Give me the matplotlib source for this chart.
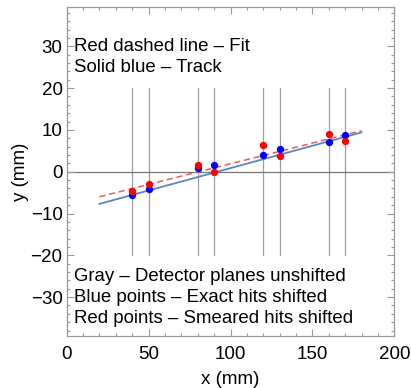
import matplotlib
matplotlib.use("Agg")
import matplotlib.pyplot as plt
from matplotlib.ticker import MultipleLocator
import numpy as np

plt.rcParams['font.family'] = ['Liberation Sans', 'DejaVu Sans']

planes_x = [40, 50, 80, 90, 120, 130, 160, 170]
plane_ymin, plane_ymax = -20, 20
blue_y = [-5.6, -4.1, 0.8, 1.6, 4.1, 5.4, 7.2, 8.8]
red_y = [-4.6, -2.9, 1.6, -0.15, 6.4, 3.8, 8.9, 7.4]
track_x = [20, 180]
track_y = [-7.7, 9.4]
fit_x = [20, 180]
fit_y = [-6.0, 9.8]
top_text = ["Red dashed line \u2013 Fit", "Solid blue \u2013 Track"]
bottom_text = ["Gray \u2013 Detector planes unshifted",
               "Blue points \u2013 Exact hits shifted",
               "Red points \u2013 Smeared hits shifted"]

fig = plt.figure(figsize=(4.11, 3.88), dpi=100)
ax = fig.add_axes([0.1623, 0.134, 0.7971, 0.847])

for i, x in enumerate(planes_x):
    ax.plot([x, x], [plane_ymin, plane_ymax], color='#888888', lw=0.9, alpha=0.8, zorder=1)
ax.axhline(0, color='#777777', lw=0.9, zorder=1)

ax.plot(track_x, track_y, color='#5a86c5', lw=1.3, zorder=2)
ax.plot(fit_x, fit_y, color='#e06060', lw=1.1, ls=(0, (4, 2.5)), zorder=2)

ax.scatter(planes_x, blue_y, s=28, color='#0000ff', zorder=3, linewidths=0)
ax.scatter(planes_x, red_y, s=28, color='#ff0000', zorder=4, linewidths=0)

ax.set_xlim(0, 200)
ax.set_ylim(-39.3, 39.3)
ax.xaxis.set_major_locator(MultipleLocator(50))
ax.xaxis.set_minor_locator(MultipleLocator(10))
ax.yaxis.set_major_locator(MultipleLocator(10))
ax.yaxis.set_minor_locator(MultipleLocator(2))
ax.tick_params(which='both', direction='in', top=True, right=True, color='#999999',
               labelsize=13.5, labelcolor='black', width=0.8)
ax.tick_params(which='major', length=5)
ax.tick_params(which='minor', length=2.5)
ax.tick_params(axis='x', pad=7)
ax.tick_params(axis='y', pad=3)
for s in ax.spines.values():
    s.set_color('#999999')
    s.set_linewidth(0.9)

ax.set_xlabel("x (mm)", fontsize=13.5, labelpad=6)
ax.set_ylabel("y (mm)", fontsize=13.5, labelpad=1)

for i, t in enumerate(top_text):
    ax.text(4.5, 30.0 - i * 5.0, t, fontsize=13.4, va='center', ha='left')
for i, t in enumerate(bottom_text):
    ax.text(4.5, -25.0 - i * 5.0, t, fontsize=13.4, va='center', ha='left')

fig.savefig("out.png", dpi=100)
